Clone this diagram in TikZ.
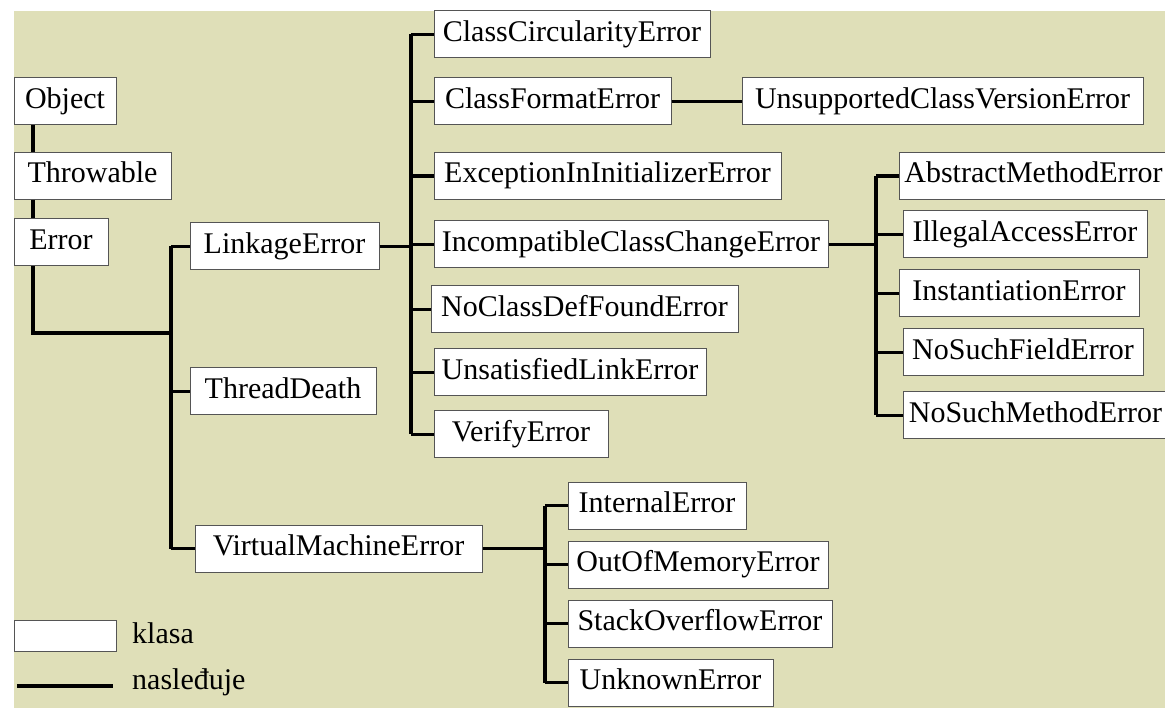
\documentclass[tikz,border=0pt]{standalone}
\usepackage{fontspec}
\setmainfont{Liberation Serif}
\newfontfamily\slovaserif{Liberation Serif}
\usetikzlibrary{positioning}
\definecolor{pozadina}{RGB}{223,223,184}
\definecolor{okvir}{RGB}{85,85,85}

\begin{document}
\begin{tikzpicture}[
    % GLOBAL CFG
    x=1pt, y=-1pt,
    font=\slovaserif\fontsize{30}{36}\selectfont,
    % Styles
    klasa/.style={% For class boxes
        rectangle,
        draw=okvir,
        line width=1pt,
        fill=white,
        inner sep=0pt,
        minimum height=47pt,
        text height=21pt,
        text depth=7pt,
    },
    nasledjuje/.style={% For inheritance lines
        line width=3.5pt,
        line join=miter,
    },
    legenda/.style={
        anchor=base west,
        inner sep=0pt,
    },
    ]
    % Background
    \useasboundingbox (0,0) rectangle (1165,708);
    \fill[pozadina] (14,11) rectangle (1165,708);

    % Coordinates for the vertical spines
    \coordinate (stem) at (33,0);
    \coordinate (joinErr) at (33,333);
    \coordinate (jMain) at (171,333);
    \coordinate (jLink) at (411,0);
    \coordinate (jIncomp) at (876,0);
    \coordinate (jVM) at (545,0);

    % Draw root classes
    \node [klasa, minimum width=102pt] (obj) at (65,101.5) {Object};
    \node [klasa, minimum width=157pt] (thr) at (92.5,176) {Throwable};
    \node [klasa, minimum width=94pt] (err) at (61,242.5) {Error};

    % Draw direct subclasses of Error
    \node [klasa, minimum width=189pt] (link) at (284.5,246.5) {LinkageError};
    \node [klasa, minimum width=186pt] (thd) at (283,391.5) {ThreadDeath};
    \node [klasa, minimum width=287pt] (vme) at (338.5,548.5) {VirtualMachineError};

    % Draw subclasses of LinkageError
    \node [klasa, minimum width=276pt] (cce) at (572,34.5) {ClassCircularityError};
    \node [klasa, minimum width=237pt] (cfe) at (552.5,101.5) {ClassFormatError};
    \node [klasa, minimum width=401pt] (ucve) at (942.5,101.5) {UnsupportedClassVersionError};
    \node [klasa, minimum width=347pt] (eiie) at (607.5,176) {ExceptionInInitializerError};
    \node [klasa, minimum width=394pt] (icce) at (631,244.5) {IncompatibleClassChangeError};
    \node [klasa, minimum width=307pt] (ncdfe) at (584.5,309.5) {NoClassDefFoundError};
    \node [klasa, minimum width=272pt] (usle) at (570,372.5) {UnsatisfiedLinkError};
    \node [klasa, minimum width=174pt] (ve) at (521,434.5) {VerifyError};

    % Draw subclasses of IncompatibleClassChangeError
    \node [klasa, minimum width=269pt] (ame) at (1033.5,176) {AbstractMethodError};
    \node [klasa, minimum width=244pt] (iae) at (1025,234.5) {IllegalAccessError};
    \node [klasa, minimum width=240pt] (ie) at (1019,293.5) {InstantiationError};
    \node [klasa, minimum width=240pt] (nsfe) at (1023,352.5) {NoSuchFieldError};
    \node [klasa, minimum width=265pt] (nsme) at (1035.5,415.5) {NoSuchMethodError};

    % Draw subclasses of VirtualMachineError
    \node [klasa, minimum width=178pt] (inte) at (657,505.5) {InternalError};
    \node [klasa, minimum width=260pt] (oome) at (698,564.5) {OutOfMemoryError};
    \node [klasa, minimum width=264pt] (soe) at (700,623.5) {StackOverflowError};
    \node [klasa, minimum width=205pt] (ue) at (670.5,682.5) {UnknownError};

    % Legend
    \node [klasa, minimum width=102pt, minimum height=31pt] (legKlasa) at (65,635.5) {};
    \coordinate (legA) at (17,686);
    \coordinate (legB) at (113,686);
    \node [legenda] (txtKlasa) at (132,643) {klasa};
    \node [legenda] (txtNasl) at (132,689) {nasleđuje};

    % Connect all
    % Object -> Throwable -> Error
    \draw [nasledjuje] (obj.south -| stem) -- (thr.north -| stem);
    \draw [nasledjuje] (thr.south -| stem) -- (err.north -| stem);
    \draw [nasledjuje] (err.south -| stem) -- (joinErr) -- (jMain);

    % Error spine
    \draw [nasledjuje] (jMain |- link) -- (jMain |- vme);
    \draw [nasledjuje] (jMain |- link) -- (link.west);
    \draw [nasledjuje] (jMain |- thd) -- (thd.west);
    \draw [nasledjuje] (jMain |- vme) -- (vme.west);

    % LinkageError spine
    \draw [nasledjuje] (link.east) -- (jLink |- link);
    \draw [nasledjuje] (jLink |- cce) -- (jLink |- ve);
    \draw [nasledjuje] (jLink |- cce) -- (cce.west);
    \draw [nasledjuje] (jLink |- cfe) -- (cfe.west);
    \draw [nasledjuje] (jLink |- eiie) -- (eiie.west);
    \draw [nasledjuje] (jLink |- icce) -- (icce.west);
    \draw [nasledjuje] (jLink |- ncdfe) -- (ncdfe.west);
    \draw [nasledjuje] (jLink |- usle) -- (usle.west);
    \draw [nasledjuje] (jLink |- ve) -- (ve.west);
    \draw [nasledjuje] (cfe.east) -- (ucve.west);

    % IncompatibleClassChangeError spine
    \draw [nasledjuje] (icce.east) -- (jIncomp |- icce);
    \draw [nasledjuje] (jIncomp |- ame) -- (jIncomp |- nsme);
    \draw [nasledjuje] (jIncomp |- ame) -- (ame.west);
    \draw [nasledjuje] (jIncomp |- iae) -- (iae.west);
    \draw [nasledjuje] (jIncomp |- ie) -- (ie.west);
    \draw [nasledjuje] (jIncomp |- nsfe) -- (nsfe.west);
    \draw [nasledjuje] (jIncomp |- nsme) -- (nsme.west);

    % VirtualMachineError spine
    \draw [nasledjuje] (vme.east) -- (jVM |- vme);
    \draw [nasledjuje] (jVM |- inte) -- (jVM |- ue);
    \draw [nasledjuje] (jVM |- inte) -- (inte.west);
    \draw [nasledjuje] (jVM |- oome) -- (oome.west);
    \draw [nasledjuje] (jVM |- soe) -- (soe.west);
    \draw [nasledjuje] (jVM |- ue) -- (ue.west);

    % Legend line
    \draw [nasledjuje] (legA) -- (legB);

\end{tikzpicture}
\end{document}
